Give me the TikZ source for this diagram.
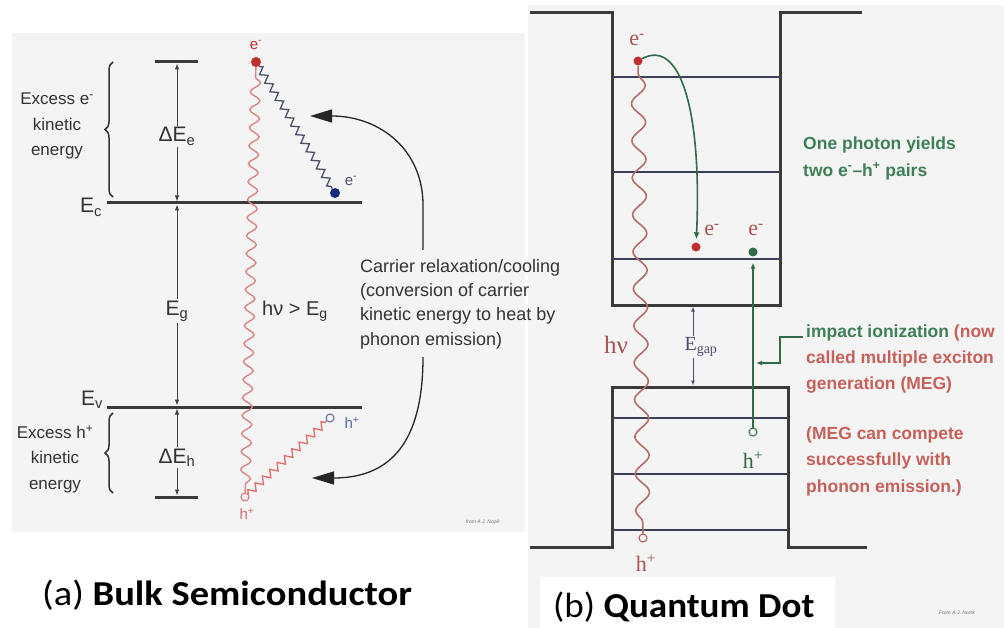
\documentclass[tikz,border=0pt]{standalone}
\usepackage{fontspec}
\setmainfont{Liberation Sans}
\newfontfamily\tnr{Liberation Serif}
\newfontfamily\capfont{Carlito}
\usetikzlibrary{arrows.meta,decorations.pathmorphing,decorations.pathreplacing}

\definecolor{bandgray}{HTML}{3A3A3A}
\definecolor{levelgray}{HTML}{3C3F55}
\definecolor{photonred}{HTML}{D98585}
\definecolor{dotred}{HTML}{C22E2E}
\definecolor{dotblue}{HTML}{1C2A7E}
\definecolor{holeblue}{HTML}{5A6A9A}
\definecolor{relaxgray}{HTML}{4A5068}
\definecolor{megreen}{HTML}{2F6B48}
\definecolor{txtgreen}{HTML}{3F7F58}
\definecolor{txtred}{HTML}{C6605A}
\definecolor{qdred}{HTML}{A65552}
\definecolor{gapblue}{HTML}{4D4D70}
\definecolor{panelbg}{HTML}{F4F4F4}

\begin{document}
\begin{tikzpicture}[x=1pt,y=-1pt,
  band/.style={line width=3pt, bandgray},
  qlevel/.style={line width=2.4pt, levelgray},
  lbl/.style={font=\fontsize{17}{25.5}\selectfont, text=black!80, inner sep=0pt},
  elbl/.style={font=\fontsize{21}{24}\selectfont, text=black!80, inner sep=1.5pt, fill=panelbg},
  gaparrow/.style={{Latex[length=6pt,width=4.5pt]}-{Latex[length=6pt,width=4.5pt]}, line width=1pt, black!75, shorten <=1.5pt, shorten >=1.5pt},
  edot/.style={circle, inner sep=0pt, minimum size=10pt, fill=#1},
  hole/.style={circle, draw=#1, line width=1pt, inner sep=0pt, minimum size=8pt},
  bigarrow/.style={-{Triangle[length=22pt,width=13pt]}, line width=1.3pt, black!85},
  qdlbl/.style={font=\tnr\fontsize{22}{24}\selectfont, inner sep=0pt},
  captxt/.style={font=\capfont\fontsize{35}{36}\selectfont, anchor=west, inner sep=0pt},
  note/.style={font=\fontsize{5}{6}\selectfont\itshape, text=black!55}
]
\useasboundingbox (0,0) rectangle (1006,628);

% backgrounds
\fill[panelbg] (12,33) rectangle (525,532);
\fill[panelbg] (528,5) rectangle (1004,628);
\fill[white] (540,577) rectangle (835,628);

%%%%%%%% (a) bulk semiconductor
% band edges
\coordinate (ec-l) at (107,203); \coordinate (ec-r) at (362,203);
\coordinate (ev-l) at (107,407); \coordinate (ev-r) at (362,407);
\coordinate (top-l) at (155,62); \coordinate (top-r) at (198,62);
\coordinate (bot-l) at (155,497); \coordinate (bot-r) at (198,497);
\draw[band] (ec-l) -- (ec-r);
\draw[band] (ev-l) -- (ev-r);
\draw[band] (top-l) -- (top-r);
\draw[band] (bot-l) -- (bot-r);

% energy arrows
\coordinate (a-top) at (177,62);
\coordinate (a-ec) at (177,203);
\coordinate (a-ev) at (177,407);
\coordinate (a-bot) at (177,497);
\draw[gaparrow] (a-top) -- (a-ec);
\draw[gaparrow] (a-ec) -- (a-ev);
\draw[gaparrow] (a-ev) -- (a-bot);
\node[elbl, anchor=base] (de) at (177,142) {ΔE\textsubscript{e}};
\node[elbl, anchor=base] (eg) at (177,315) {E\textsubscript{g}};
\node[elbl, anchor=base] (dh) at (177,463) {ΔE\textsubscript{h}};
\node[elbl, fill=none, anchor=base] (ec) at (91,213) {E\textsubscript{c}};
\node[elbl, fill=none, anchor=base] (ev) at (92,405) {E\textsubscript{v}};

% braces
\draw[decorate, decoration={brace, amplitude=8pt}, line width=1.5pt, black!80] (113,197) -- (113,62);
\draw[decorate, decoration={brace, amplitude=8pt}, line width=1.5pt, black!80] (113,493) -- (113,413);
\node[lbl, align=center] (exe) at (57,126) {Excess e\textsuperscript{-}\\kinetic\\energy};
\node[lbl, align=center] (exh) at (55,459) {Excess h\textsuperscript{+}\\kinetic\\energy};

% carriers
\node[edot=dotred] (e1) at (256,62) {};
\node[edot=dotblue] (e2) at (335,193) {};
\node[hole=dotred!70] (h1) at (245,497) {};
\node[hole=holeblue] (h2) at (330,418) {};
\node[font=\fontsize{15}{16}\selectfont, text=dotred, inner sep=0pt] (e1l) at (256,45) {e\textsuperscript{-}};
\node[font=\fontsize{15}{16}\selectfont, text=relaxgray, inner sep=0pt] (e2l) at (351,181) {e\textsuperscript{-}};
\node[font=\fontsize{15}{16}\selectfont, text=dotred!70, inner sep=0pt] (h1l) at (247,514) {h\textsuperscript{+}};
\node[font=\fontsize{15}{16}\selectfont, text=holeblue, inner sep=0pt] (h2l) at (352,423) {h\textsuperscript{+}};

% photon and relaxation
\draw[photonred, line width=1.4pt, decorate, decoration={snake, segment length=18pt, amplitude=5pt, pre length=10pt}] (e1) -- (h1);
\draw[relaxgray, line width=1.3pt, decorate, decoration={zigzag, segment length=10pt, amplitude=3.5pt}] (e1) -- (e2);
\draw[photonred!80!red, line width=1.3pt, decorate, decoration={zigzag, segment length=10pt, amplitude=3.5pt}] (h1) -- (h2);
\node[font=\fontsize{20}{24}\selectfont, text=black!80, anchor=base west, inner sep=0pt] (hv) at (262,315) {hν > E\textsubscript{g}};

% cooling text and arrows
\node[font=\fontsize{18}{24.3}\selectfont, text=black!80, align=left, anchor=west, inner sep=0pt] (relaxtxt) at (360,304)
  {Carrier relaxation/cooling\\(conversion of carrier\\kinetic energy to heat by\\phonon emission)};
\coordinate (up-s) at (423,250);
\coordinate (up-e) at (310,116);
\coordinate (dn-s) at (423,357);
\coordinate (dn-e) at (312,478);
\draw[bigarrow] (up-s) -- (423,205) .. controls (423,150) and (380,116) .. (up-e);
\draw[bigarrow] (dn-s) .. controls (423,432) and (398,478) .. (dn-e);
\node[note] (srca) at (483,522) {from A.J. Nozik};

% caption
\node[captxt] (capa) at (42,595) {\scalebox{1.1}[1]{(a) \textbf{Bulk Semiconductor}}};

%%%%%%%% (b) quantum dot
% well
\draw[band] (530,13) -- (612,13) -- (612,305) -- (780,305) -- (780,13) -- (862,13);
\draw[band] (530,547) -- (612,547) -- (612,387) -- (788,387) -- (788,547) -- (867,547);
\foreach \y in {77,172,259}
  \draw[qlevel] (612,\y) -- (780,\y);
\foreach \y in {418,474,530}
  \draw[qlevel] (612,\y) -- (788,\y);

% gap
\coordinate (g-top) at (693,305);
\coordinate (g-bot) at (693,387);
\draw[gaparrow, gapblue, {Latex[length=5pt,width=4pt]}-{Latex[length=5pt,width=4pt]}] (g-top) -- (g-bot);
\node[font=\tnr\fontsize{20}{22}\selectfont, text=gapblue, fill=panelbg, inner sep=1pt] (egap) at (701,347) {E\textsubscript{gap}};

% carriers
\node[edot=dotred, minimum size=9pt] (e3) at (638,61) {};
\node[edot=dotred, minimum size=9pt] (e4) at (696,247) {};
\node[edot=megreen, minimum size=9pt] (e5) at (753,252) {};
\node[hole=qdred] (h3) at (643,538) {};
\node[hole=megreen] (h4) at (753,432) {};
\node[qdlbl, text=qdred] (e3l) at (637,40) {e\textsuperscript{-}};
\node[qdlbl, text=qdred] (e4l) at (712,230) {e\textsuperscript{-}};
\node[qdlbl, text=qdred] (e5l) at (756,230) {e\textsuperscript{-}};
\node[qdlbl, text=qdred] (h3l) at (646,563) {h\textsuperscript{+}};
\node[qdlbl, text=megreen] (h4l) at (753,460) {h\textsuperscript{+}};
\node[font=\tnr\fontsize{25}{26}\selectfont, text=qdred, inner sep=0pt] (hv2) at (616,345) {hν};

% photon, MEG
\draw[qdred!85, line width=1.6pt, decorate, decoration={snake, segment length=37pt, amplitude=7pt, pre length=8pt}] (e3) -- (h3);
\draw[megreen, line width=1.6pt, -{Latex[length=7pt,width=6pt]}, shorten >=3pt] (e3) .. controls (680,38) and (702,110) .. (e4);
\draw[megreen, line width=1.6pt, -{Latex[length=6pt,width=5pt]}, shorten >=6pt] (h4) -- (e5);
\coordinate (ptr) at (803,337);
\coordinate (ptr-e) at (756,363);
\draw[megreen, line width=1.5pt, -{Latex[length=6pt,width=5pt]}] (ptr) -- (780,337) -- (780,363) -- (ptr-e);

% texts
\node[font=\bfseries\fontsize{17.5}{27}\selectfont, text=txtgreen, align=left, anchor=west, inner sep=0pt] (yield) at (803,158)
  {One photon yields\\two e\textsuperscript{-}–h\textsuperscript{+} pairs};
\node[font=\bfseries\fontsize{17.5}{26}\selectfont, text=txtred, align=left, anchor=west, inner sep=0pt] (meg) at (806,359)
  {\textcolor{txtgreen}{impact ionization} (now\\called multiple exciton\\generation (MEG)};
\node[font=\bfseries\fontsize{17.5}{26.5}\selectfont, text=txtred, align=left, anchor=west, inner sep=0pt] (compete) at (806,461)
  {(MEG can compete\\successfully with\\phonon emission.)};
\node[note] (srcb) at (957,613) {From A.J. Nozik};

% caption
\node[captxt] (capb) at (553,607) {\scalebox{1.06}[1]{(b) \textbf{Quantum Dot}}};
\end{tikzpicture}
\end{document}
